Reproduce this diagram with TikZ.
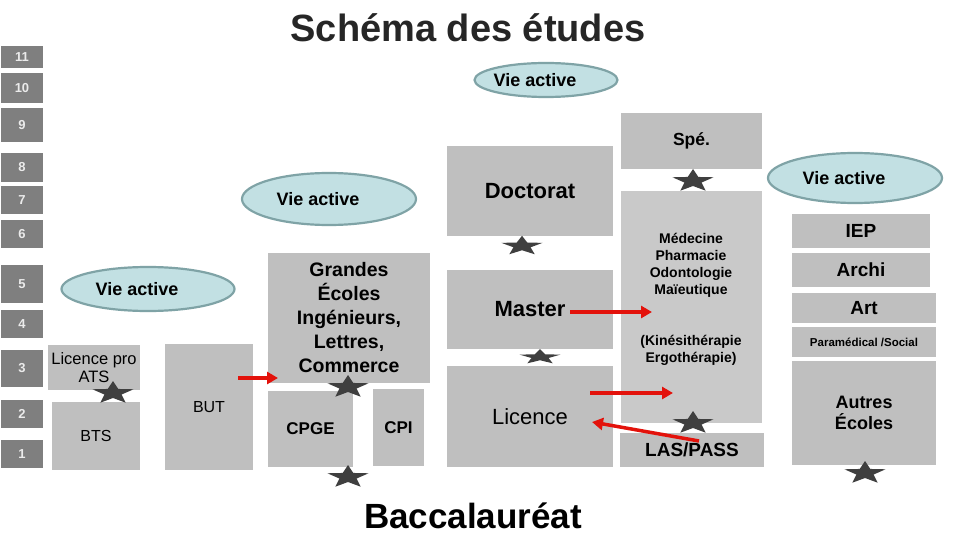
\documentclass[tikz,border=0pt]{standalone}
\usepackage{fontspec}
\setmainfont{Liberation Sans}
\usetikzlibrary{shapes.geometric,arrows.meta}
\definecolor{yrgray}{HTML}{7F7F7F}
\definecolor{cellg}{HTML}{BFBFBF}
\definecolor{cellm}{HTML}{C9C9C9}
\definecolor{vief}{HTML}{C2E0E3}
\definecolor{vied}{HTML}{7FA3A6}
\definecolor{starc}{HTML}{3F3F3F}
\definecolor{flred}{HTML}{E3120B}
\definecolor{titc}{HTML}{262626}
\newcommand\fsz[2]{\fontsize{#1}{#2}\selectfont}
\tikzset{
  yr/.style={rectangle, fill=yrgray, text=white!92!black, minimum width=42, inner sep=0pt, font=\fsz{13}{14}\bfseries},
  cell/.style={rectangle, fill=cellg, inner sep=0pt, align=center},
  vie/.style={ellipse, draw=vied, fill=vief, line width=2.2pt, inner sep=0pt,
    label={[font=\fsz{18}{20}\bfseries, xshift=-11pt]center:Vie active}},
  etoile/.style={star, star points=5, star point ratio=2.4, fill=starc, minimum size=24, inner sep=0pt, xscale=1.8},
  fl/.style={-{Triangle[length=11pt,width=12pt]}, draw=flred, line width=3.5pt},
}
\begin{document}
\begin{tikzpicture}[x=1pt,y=-1pt]
\fill[white] (0,0) rectangle (960,540);
\useasboundingbox (0,0) rectangle (960,540);

% annees d'etudes
\foreach \n/\yc/\h in {11/57/22,10/88/30,9/125/34,8/167.5/29,7/200/28,6/234/28,5/284/38,4/324/28,3/368.5/37,2/414/28,1/454/28}
  \node[yr, minimum height=\h] (an\n) at (22,\yc) {\n};

\node[font=\fsz{38}{40}\bfseries, text=titc, anchor=base] (titre) at (468,42) {Schéma des études};

% filieres courtes
\node[cell, minimum width=92, minimum height=45, font=\fsz{16.5}{18}] (lpro) at (94,367.5) {Licence pro\\ATS};
\node[cell, minimum width=88, minimum height=68, font=\fsz{16}{18}] (bts) at (96,436) {BTS};
\node[cell, minimum width=88, minimum height=126, font=\fsz{16}{18}] (but) at (209,407) {BUT};

% ecoles
\node[cell, minimum width=162, minimum height=130, font=\fsz{19.5}{24}\bfseries] (ge) at (349,318) {Grandes\\Écoles\\Ingénieurs,\\Lettres,\\Commerce};
\node[cell, minimum width=85, minimum height=76, font=\fsz{17}{20}\bfseries] (cpge) at (310.5,429) {CPGE};
\node[cell, minimum width=51, minimum height=77, font=\fsz{17}{20}\bfseries] (cpi) at (398.5,427.5) {CPI};

% universite
\node[cell, minimum width=166, minimum height=90, font=\fsz{22}{24}\bfseries] (doct) at (530,191) {Doctorat};
\node[cell, minimum width=166, minimum height=79, font=\fsz{22}{24}\bfseries] (master) at (530,309.5) {Master};
\node[cell, minimum width=166, minimum height=101, font=\fsz{22}{24}] (lic) at (530,416.5) {Licence};

% sante
\node[cell, minimum width=141, minimum height=56, font=\fsz{17.5}{20}\bfseries] (spe) at (691.5,141) {Spé.};
\node[cell, fill=cellm, minimum width=141, minimum height=232] (med) at (691.5,307) {};
\node[align=center, font=\fsz{14}{17}\bfseries] (medtxt) at (691,265) {Médecine\\Pharmacie\\Odontologie\\Maïeutique};
\node[align=center, font=\fsz{14}{17}\bfseries] (kine) at (691,350) {(Kinésithérapie\\Ergothérapie)};
\node[cell, minimum width=144, minimum height=34, font=\fsz{19}{20}\bfseries] (las) at (692,450) {LAS/PASS};

% autres ecoles
\node[cell, minimum width=138, minimum height=34, font=\fsz{19}{20}\bfseries] (iep) at (861,231) {IEP};
\node[cell, minimum width=138, minimum height=34, font=\fsz{19}{20}\bfseries] (archi) at (861,270) {Archi};
\node[cell, minimum width=144, minimum height=30, font=\fsz{19}{20}\bfseries] (art) at (864,308) {Art};
\node[cell, minimum width=144, minimum height=30, font=\fsz{11.5}{13}\bfseries] (para) at (864,342) {Paramédical /Social};
\node[cell, minimum width=144, minimum height=104, font=\fsz{18}{21}\bfseries] (autres) at (864,413) {Autres\\Écoles};

% vie active
\node[vie, minimum width=143, minimum height=34] (va1) at (546,80) {};
\node[vie, minimum width=174, minimum height=52] (va2) at (329,199) {};
\node[vie, minimum width=173, minimum height=44] (va3) at (148,289) {};
\node[vie, minimum width=174, minimum height=50] (va4) at (855,178) {};

\node[font=\fsz{35}{38}\bfseries, anchor=base] (bac) at (473,528) {Baccalauréat};

% etoiles
\node[etoile] (e1) at (113,393) {};
\node[etoile] (e2) at (348,387) {};
\node[etoile] (e3) at (348,477) {};
\node[etoile, yscale=0.85] (e4) at (522,246) {};
\node[etoile, yscale=0.65] (e5) at (540,357) {};
\node[etoile] (e6) at (693,181) {};
\node[etoile] (e7) at (693,423) {};
\node[etoile] (e8) at (865,473) {};

% passerelles
\coordinate (butR) at (238,378);
\coordinate (geL) at (278,378);
\coordinate (masR) at (570,312);
\coordinate (medA) at (652,312);
\coordinate (licR) at (590,393);
\coordinate (medB) at (673,393);
\coordinate (lasL) at (699,441);
\coordinate (licB) at (592,422);
\draw[fl] (butR) -- (geL);
\draw[fl] (masR) -- (medA);
\draw[fl] (licR) -- (medB);
\draw[fl] (lasL) -- (licB);
\end{tikzpicture}
\end{document}
